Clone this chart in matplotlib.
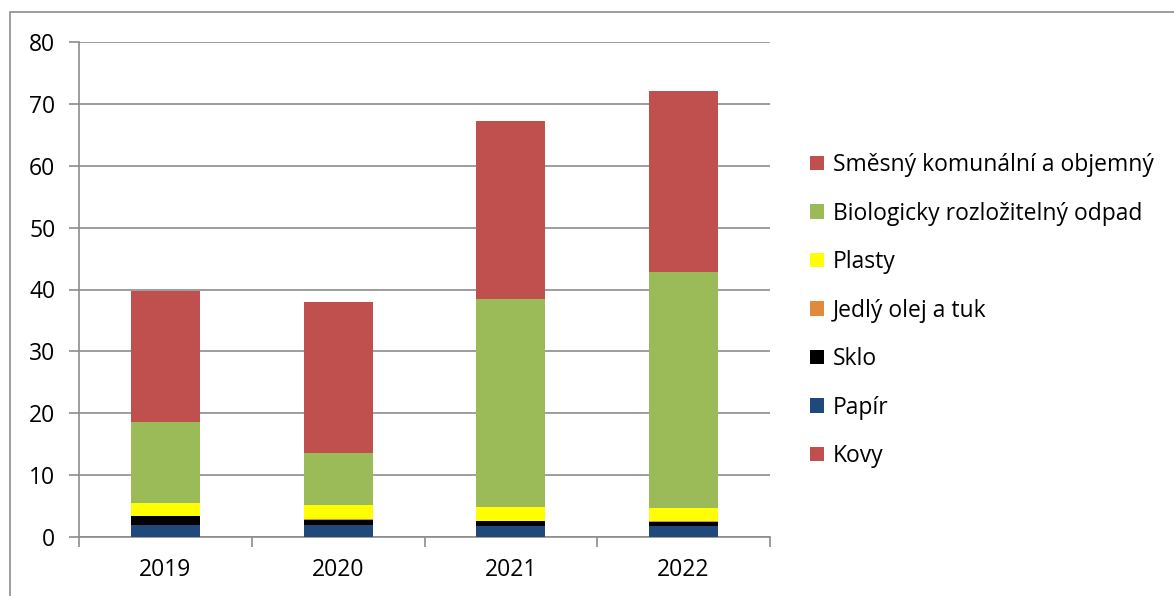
import matplotlib.pyplot as plt
from matplotlib.patches import Rectangle, Patch
import numpy as np

plt.rcParams['font.family'] = ['Open Sans', 'DejaVu Sans']

years = ['2019', '2020', '2021', '2022']
# stacked from bottom to top
kovy = [0.05, 0.05, 0.05, 0.05]
papir = [1.85, 1.85, 1.8, 1.7]
sklo = [1.5, 0.9, 0.75, 0.75]
olej = [0.05, 0.05, 0.05, 0.05]
plasty = [2.1, 2.25, 2.25, 2.2]
bio = [13.0, 8.4, 33.5, 38.1]
smesny = [21.2, 24.5, 28.8, 29.2]

series = [('Kovy', kovy, '#C0504D'),
          ('Papír', papir, '#1F497D'),
          ('Sklo', sklo, '#000000'),
          ('Jedlý olej a tuk', olej, '#E2893B'),
          ('Plasty', plasty, '#FFFF00'),
          ('Biologicky rozložitelný odpad', bio, '#9BBB59'),
          ('Směsný komunální a objemný', smesny, '#C0504D')]

fig = plt.figure(figsize=(11.74, 5.96), dpi=100)
fig.patches.append(Rectangle((10/1174, -0.1), 1.2, (596-12)/596+0.1,
                             transform=fig.transFigure, fill=False,
                             edgecolor='#8c8c8c', linewidth=1.2))
ax = fig.add_axes([79/1174, 59/596, 691/1174, 495/596])

x = np.arange(len(years))
bottom = np.zeros(len(years))
handles = []
for name, vals, col in series:
    ax.bar(x, vals, 0.4, bottom=bottom, color=col, edgecolor='none', zorder=3)
    bottom += np.array(vals)
    handles.append(Patch(facecolor=col, label=name))

ax.set_xlim(-0.5, 3.5)
ax.set_ylim(0, 80)
ax.set_yticks(range(0, 81, 10))
ax.yaxis.grid(True, color='#8c8c8c', linewidth=1.2, zorder=0)
ax.set_xticks(x)
ax.set_xticklabels(years)
ax.set_xticks(np.arange(-0.5, 4, 1), minor=True)
ax.tick_params(axis='x', which='major', length=0, pad=15, labelsize=16.5)
ax.tick_params(axis='x', which='minor', length=7, color='#8c8c8c', width=1.2)
ax.tick_params(axis='y', length=7, color='#8c8c8c', width=1.2, labelsize=16.5, pad=10)
for s in ['top', 'right']:
    ax.spines[s].set_visible(False)
for s in ['left', 'bottom']:
    ax.spines[s].set_color('#8c8c8c')
    ax.spines[s].set_linewidth(1.2)

fig.legend(handles=handles[::-1], loc='upper left',
           bbox_to_anchor=(810/1174, 1 - 153/596), frameon=False,
           fontsize=16.5, labelspacing=1.07, handlelength=0.6, handleheight=0.6,
           handletextpad=0.4, borderpad=0, borderaxespad=0)

fig.savefig('out.png', dpi=100)
